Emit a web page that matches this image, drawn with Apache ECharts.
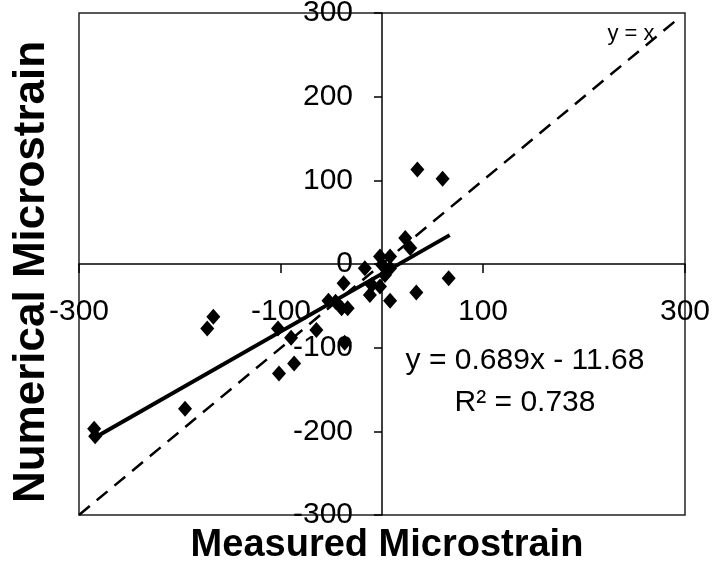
<!DOCTYPE html>
<html>
<head>
<meta charset="utf-8">
<script src="https://cdn.jsdelivr.net/npm/echarts@6/dist/echarts.min.js"></script>
<style>
  html, body { margin: 0; padding: 0; background: #fff; }
  #chart { width: 715px; height: 567px; }
</style>
</head>
<body>
<div id="chart"></div>
<script>
// measured vs numerical microstrain
const measured = [35, 60, 23, 28, 66, 34, 8, -2, 8, 0, 8, 3, -17, -38, -10, -2, -12,
  -53, -46, -40, -34, -65, -103, -90, -37, -87, -102, -167, -173, -195, -285, -284]
const numerical = [113, 102, 31, 19, -17, -34, -44, 9, 9, -1, -5, -13, -5, -23, -25, -27, -37,
  -44, -45, -53, -53, -79, -77, -88, -94, -119, -131, -63, -77, -173, -197, -206]

// fitted line y = 0.689x - 11.68, ends as drawn
const fitX = [-285, 67]
const fitY = [-208, 34.5]
// y = x reference
const refX = [-300, 293]
const refY = [-300, 293]

const xTicks = [-300, -100, 100, 300]
const yTicks = [-300, -200, -100, 0, 100, 200, 300]

const font = '"Liberation Sans", Arial, sans-serif'

// plot box in pixels
const gridLeft = 79
const gridTop = 13
const gridW = 606
const gridH = 502

const chart = echarts.init(document.getElementById('chart'))

// axes cross at 0: shift each axis from the box edge to the zero line
const xSpan = xTicks[xTicks.length - 1] - xTicks[0]
const ySpan = yTicks[yTicks.length - 1] - yTicks[0]
const xOffset = -gridH * (0 - yTicks[0]) / ySpan
const yOffset = -gridW * (0 - xTicks[0]) / xSpan

chart.setOption({
  animation: false,
  grid: {
    left: gridLeft,
    top: gridTop,
    width: gridW,
    height: gridH,
    outerBoundsMode: 'none',
    containLabel: false,
    show: true,
    borderColor: '#222',
    borderWidth: 1.5,
    backgroundColor: '#fff'
  },
  xAxis: {
    type: 'value',
    position: 'bottom',
    offset: xOffset,
    min: xTicks[0],
    max: xTicks[xTicks.length - 1],
    interval: 200,
    axisLine: { onZero: false, lineStyle: { color: '#000', width: 1.5 } },
    axisTick: { show: true, length: 9, lineStyle: { color: '#000', width: 1.5 } },
    axisLabel: {
      margin: 33,
      color: '#000',
      fontSize: 30,
      fontFamily: font,
      showMinLabel: true,
      showMaxLabel: true
    },
    splitLine: { show: false }
  },
  yAxis: {
    type: 'value',
    position: 'left',
    offset: yOffset,
    min: yTicks[0],
    max: yTicks[yTicks.length - 1],
    interval: 100,
    axisLine: { onZero: false, lineStyle: { color: '#000', width: 1.5 } },
    axisTick: { show: true, length: 8, lineStyle: { color: '#000', width: 1.5 } },
    axisLabel: {
      margin: 29,
      color: '#000',
      fontSize: 30,
      fontFamily: font,
      showMinLabel: true,
      showMaxLabel: true
    },
    splitLine: { show: false }
  },
  series: [
    {
      type: 'line',
      data: refX.map((x, i) => [x, refY[i]]),
      symbol: 'none',
      lineStyle: { color: '#000', width: 2.5, type: [14, 9] },
      z: 2
    },
    {
      type: 'line',
      data: fitX.map((x, i) => [x, fitY[i]]),
      symbol: 'none',
      lineStyle: { color: '#000', width: 4 },
      z: 3
    },
    {
      type: 'scatter',
      data: measured.map((x, i) => [x, numerical[i]]),
      symbol: 'diamond',
      symbolSize: [14, 16],
      itemStyle: { color: '#000', opacity: 1 },
      z: 4
    }
  ],
  graphic: [
    {
      type: 'text',
      x: 387,
      y: 527,
      style: {
        text: 'Measured Microstrain',
        font: 'bold 38px ' + font,
        fill: '#000',
        align: 'center',
        verticalAlign: 'top'
      }
    },
    {
      type: 'text',
      x: 10,
      y: 272,
      rotation: Math.PI / 2,
      style: {
        text: 'Numerical Microstrain',
        font: 'bold 44px ' + font,
        fill: '#000',
        align: 'center',
        verticalAlign: 'top'
      }
    },
    {
      type: 'text',
      x: 631,
      y: 34,
      style: {
        text: 'y = x',
        font: '22px ' + font,
        fill: '#000',
        align: 'center',
        verticalAlign: 'middle'
      }
    },
    {
      type: 'text',
      x: 525,
      y: 382,
      style: {
        text: 'y = 0.689x - 11.68\nR² = 0.738',
        font: '30px ' + font,
        lineHeight: 42,
        fill: '#000',
        align: 'center',
        verticalAlign: 'middle'
      }
    }
  ]
})
</script>
</body>
</html>
